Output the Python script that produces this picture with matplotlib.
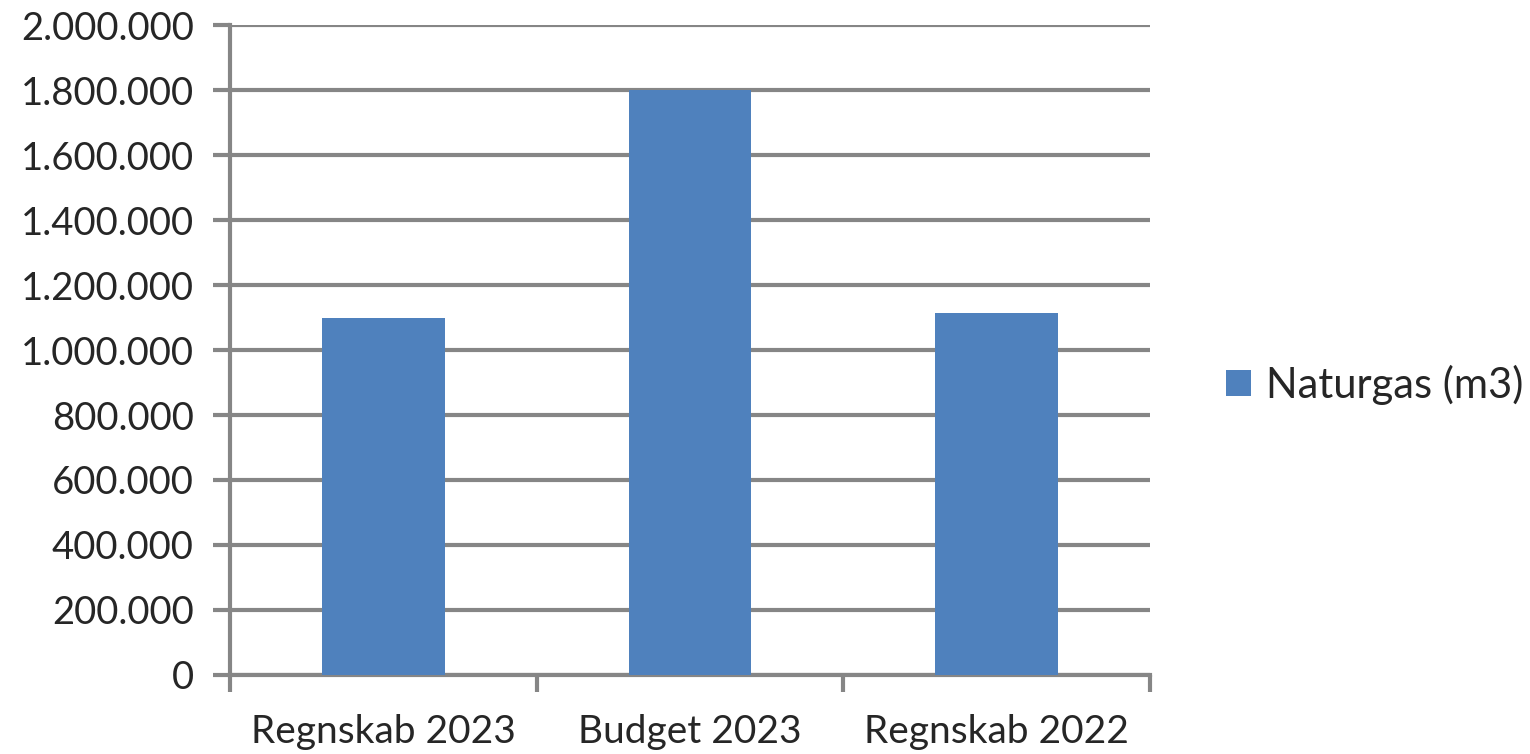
import matplotlib.pyplot as plt
import matplotlib.ticker as mticker
from matplotlib.patches import Patch

plt.rcParams['font.family'] = ['Lato', 'DejaVu Sans']

categories = ['Regnskab 2023', 'Budget 2023', 'Regnskab 2022']
values = [1097000, 1800000, 1115000]
series_name = 'Naturgas (m3)'

bar_color = '#4f81bd'
grid_color = '#868686'
text_color = '#262626'

fig = plt.figure(figsize=(15.3, 7.54), dpi=100)
ax = fig.add_axes([0.1503, 0.1048, 0.6013, 0.862])

x = range(len(categories))
ax.bar(x, values, width=0.4, color=bar_color, zorder=3)

ax.set_xlim(-0.5, len(categories) - 0.5)
ax.set_ylim(0, 2000000)
ax.yaxis.set_major_locator(mticker.MultipleLocator(200000))
ax.yaxis.set_major_formatter(
    mticker.FuncFormatter(lambda v, p: f'{int(v):,}'.replace(',', '.')))
ax.grid(axis='y', color=grid_color, linewidth=3, zorder=0)

# category labels centred, ticks on the boundaries
ax.set_xticks([i - 0.5 for i in range(len(categories) + 1)])
ax.set_xticklabels([])
ax.set_xticks(list(x), minor=True)
ax.set_xticklabels(categories, minor=True)
ax.tick_params(axis='x', which='minor', length=0, pad=28, labelsize=28, colors=text_color)
ax.tick_params(axis='x', which='major', length=12, width=3, color=grid_color)
ax.tick_params(axis='y', length=12, width=3, color=grid_color, labelsize=27.5,
               labelcolor=text_color, pad=14)

for s in ['top', 'right']:
    ax.spines[s].set_visible(False)
for s in ['left', 'bottom']:
    ax.spines[s].set_color(grid_color)
    ax.spines[s].set_linewidth(3)

handle = Patch(facecolor=bar_color, label=series_name)
fig.legend(handles=[handle], loc='center left', bbox_to_anchor=(0.777, 0.49),
           frameon=False, fontsize=30, handlelength=0.6, handleheight=0.6,
           handletextpad=0.35, labelcolor=text_color)

fig.savefig('out.png', dpi=100)
